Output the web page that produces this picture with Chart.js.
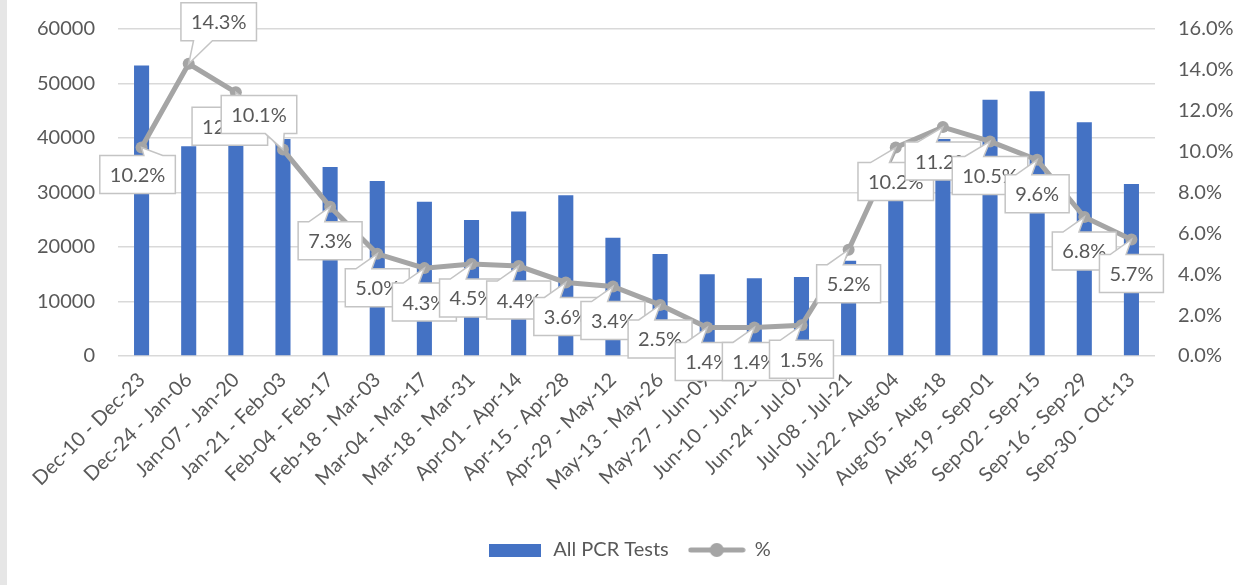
<!DOCTYPE html>
<html>
<head>
<meta charset="utf-8">
<script src="https://cdn.jsdelivr.net/npm/chart.js@4"></script>
<style>
  html, body { margin: 0; padding: 0; background: #fff; }
  #wrap { width: 1244px; height: 585px; border-left: 7px solid #e6e6e6; }
</style>
</head>
<body>
<div id="wrap"><canvas id="chart" width="1244" height="585"></canvas></div>
<script>
const periods = [
    "Dec-10 - Dec-23", "Dec-24 - Jan-06", "Jan-07 - Jan-20", "Jan-21 - Feb-03",
    "Feb-04 - Feb-17", "Feb-18 - Mar-03", "Mar-04 - Mar-17", "Mar-18 - Mar-31",
    "Apr-01 - Apr-14", "Apr-15 - Apr-28", "Apr-29 - May-12", "May-13 - May-26",
    "May-27 - Jun-09", "Jun-10 - Jun-23", "Jun-24 - Jul-07", "Jul-08 - Jul-21",
    "Jul-22 - Aug-04", "Aug-05 - Aug-18", "Aug-19 - Sep-01", "Sep-02 - Sep-15",
    "Sep-16 - Sep-29", "Sep-30 - Oct-13",
];
const pcrTests = [
    53300, 38500, 40000, 39800, 34700, 32100, 28300, 24950, 26500, 29500, 21700,
    18700, 15000, 14250, 14500, 17500, 31000, 39800, 47000, 48600, 42900, 31550,
];
const positivity = [
    10.2, 14.3, 12.9, 10.1, 7.3, 5.0, 4.3, 4.5, 4.4, 3.6, 3.4,
    2.5, 1.4, 1.4, 1.5, 5.2, 10.2, 11.2, 10.5, 9.6, 6.8, 5.7,
];
const testTicks = [0, 10000, 20000, 30000, 40000, 50000, 60000];
const percentTicks = [0, 2, 4, 6, 8, 10, 12, 14, 16];

const textColor = "#595959";
const font = { family: "Lato, 'Open Sans', sans-serif", size: 20 };

// where each callout box sits relative to its point (box centre), default below
const calloutOffsets = { 0: [-4, 27], 1: [30, -42], 2: [-6, 34], 3: [-24, -35] };

const calloutPlugin = {
    id: "callouts",
    afterDatasetsDraw(chart) {
        const ctx = chart.ctx;
        const meta = chart.getDatasetMeta(1);
        ctx.save();
        ctx.font = `${font.size}px ${font.family}`;
        ctx.textAlign = "center";
        ctx.textBaseline = "middle";
        meta.data.forEach((pt, i) => {
            const text = positivity[i].toFixed(1) + "%";
            const [dx, dy] = calloutOffsets[i] || [0, 34];
            const w = ctx.measureText(text).width + 20;
            const h = 38;
            const cx = pt.x + dx;
            const cy = pt.y + dy;
            const l = cx - w / 2, t = cy - h / 2, r = l + w, b = t + h;
            const f1 = pt.x > cx ? 7 / 12 : 2 / 12;
            const f2 = pt.x > cx ? 10 / 12 : 5 / 12;
            ctx.beginPath();
            if (pt.y < t) {
                ctx.moveTo(l, t);
                ctx.lineTo(l + w * f1, t);
                ctx.lineTo(pt.x, pt.y);
                ctx.lineTo(l + w * f2, t);
                ctx.lineTo(r, t);
                ctx.lineTo(r, b);
                ctx.lineTo(l, b);
            } else {
                ctx.moveTo(l, t);
                ctx.lineTo(r, t);
                ctx.lineTo(r, b);
                ctx.lineTo(l + w * f2, b);
                ctx.lineTo(pt.x, pt.y);
                ctx.lineTo(l + w * f1, b);
                ctx.lineTo(l, b);
            }
            ctx.closePath();
            ctx.fillStyle = "#ffffff";
            ctx.fill();
            ctx.strokeStyle = "#c4c4c4";
            ctx.lineWidth = 1.5;
            ctx.stroke();
            ctx.fillStyle = textColor;
            ctx.fillText(text, cx, cy + 1);
        });
        ctx.restore();
    },
};

const swatch = (w, h, draw) => {
    const c = document.createElement("canvas");
    c.width = w;
    c.height = h;
    draw(c.getContext("2d"));
    return c;
};
const barSwatch = swatch(52, 13, (g) => {
    g.fillStyle = "#4472C4";
    g.fillRect(0, 0, 52, 13);
});
const lineSwatch = swatch(58, 16, (g) => {
    g.strokeStyle = "#A5A5A5";
    g.lineWidth = 5;
    g.lineCap = "round";
    g.beginPath();
    g.moveTo(3, 8);
    g.lineTo(55, 8);
    g.stroke();
    g.fillStyle = "#A5A5A5";
    g.beginPath();
    g.arc(29, 8, 7, 0, Math.PI * 2);
    g.fill();
});

const fitSide = (width) => (s) => {
    s.width = width;
    s.paddingTop = 0;
    s.paddingBottom = 0;
};

const ctx = document.getElementById("chart").getContext("2d");
new Chart(ctx, {
    type: "bar",
    data: {
        labels: periods,
        datasets: [
            {
                label: "All PCR Tests",
                data: pcrTests,
                backgroundColor: "#4472C4",
                yAxisID: "y",
                order: 2,
                categoryPercentage: 1,
                barPercentage: 0.32,
            },
            {
                type: "line",
                label: "%",
                data: positivity,
                yAxisID: "y1",
                order: 1,
                borderColor: "#A5A5A5",
                borderWidth: 5,
                pointRadius: 6,
                pointBackgroundColor: "#A5A5A5",
                pointBorderWidth: 0,
                tension: 0,
            },
        ],
    },
    options: {
        responsive: false,
        animation: false,
        layout: { padding: { top: 29, bottom: 15, left: 0, right: 0 } },
        plugins: {
            tooltip: { enabled: false },
            legend: {
                position: "bottom",
                labels: {
                    usePointStyle: true,
                    pointStyleWidth: 56,
                    padding: 20,
                    color: textColor,
                    font,
                    generateLabels: (chart) =>
                        chart.data.datasets.map((ds, i) => ({
                            text: ds.label,
                            pointStyle: i === 0 ? barSwatch : lineSwatch,
                            fontColor: textColor,
                            fillStyle: "transparent",
                            strokeStyle: "transparent",
                            lineWidth: 0,
                            hidden: false,
                            datasetIndex: i,
                        })),
                },
            },
        },
        scales: {
            x: {
                offset: true,
                grid: { display: false },
                border: { display: false },
                ticks: {
                    color: textColor,
                    font,
                    minRotation: 45,
                    maxRotation: 45,
                    autoSkip: false,
                    padding: 4,
                },
                afterFit: (s) => { s.height = 164; },
            },
            y: {
                position: "left",
                min: 0,
                max: 60000,
                afterBuildTicks: (s) => { s.ticks = testTicks.map((v) => ({ value: v })); },
                grid: { color: "#D9D9D9", lineWidth: 1.5, drawTicks: false },
                border: { display: false },
                ticks: { color: textColor, font, padding: 23, callback: (v) => String(v) },
                afterFit: fitSide(111),
            },
            y1: {
                position: "right",
                min: 0,
                max: 16,
                afterBuildTicks: (s) => { s.ticks = percentTicks.map((v) => ({ value: v })); },
                grid: { display: false, drawTicks: false },
                border: { display: false },
                ticks: { color: textColor, font, padding: 23, callback: (v) => v.toFixed(1) + "%" },
                afterFit: fitSide(96),
            },
        },
    },
    plugins: [calloutPlugin],
});
</script>
</body>
</html>
